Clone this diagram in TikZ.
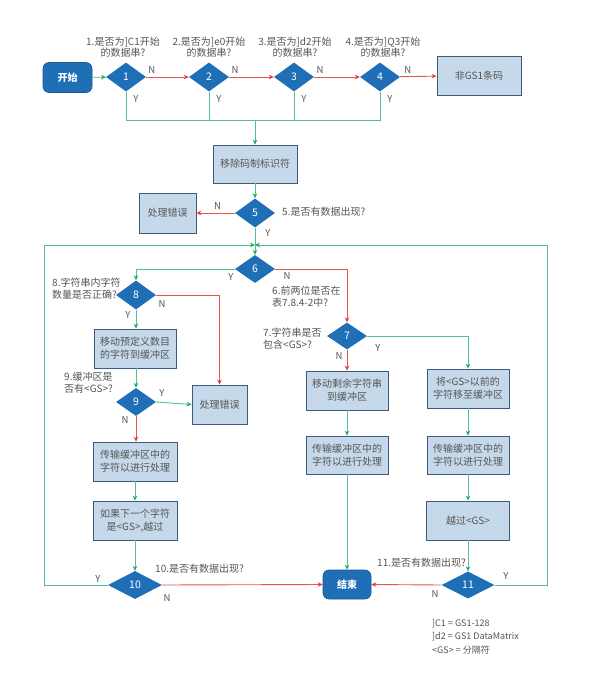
\documentclass[tikz,border=0pt]{standalone}
\usepackage{fontspec}
\setmainfont{Noto Sans CJK SC}
\usetikzlibrary{shapes.geometric,arrows.meta}
\definecolor{dblue}{HTML}{1F6FB6}
\definecolor{lblue}{HTML}{C5D9EB}
\definecolor{bord}{HTML}{3D5A80}
\definecolor{gline}{HTML}{52BF95}
\definecolor{garr}{HTML}{1FAE55}
\definecolor{rline}{HTML}{E8554D}
\definecolor{rarr}{HTML}{E53935}
\definecolor{txt}{HTML}{555555}
\tikzset{
  dia/.style={diamond,fill=dblue,draw=none,inner sep=0pt,minimum width=40pt,minimum height=29pt,text=white,font=\fontsize{10.5}{12}\selectfont},
  wdia/.style={dia,minimum width=54pt,minimum height=28pt},
  box/.style={rectangle,fill=lblue,draw=bord,line width=0.8pt,minimum width=83pt,minimum height=39pt,align=center,text=txt,font=\fontsize{10}{13}\selectfont,inner sep=1pt},
  term/.style={rectangle,rounded corners=6pt,fill=dblue,draw=dblue!80!black,line width=0.6pt,minimum width=49pt,minimum height=30pt,text=white,font=\fontsize{10}{12}\selectfont\bfseries},
  lab/.style={text=txt,font=\fontsize{10}{11.5}\selectfont,inner sep=0pt,align=left},
  yn/.style={text=txt,font=\fontsize{9.5}{11}\selectfont,inner sep=0pt},
  gl/.style={draw=gline,line width=0.9pt},
  ga/.style={gl,-{Stealth[length=5pt,width=4.5pt,color=garr]}},
  rl/.style={draw=rline,line width=0.9pt},
  ra/.style={rl,-{Stealth[length=5pt,width=4.5pt,color=rarr]}},
}
\begin{document}
\begin{tikzpicture}[x=1pt,y=-1pt]
\useasboundingbox[fill=white] (0,0) rectangle (591,690);
% nodes
\node[term] (start) at (67.5,77.5) {开始};
\node[dia] (d1) at (126,77) {1};
\node[dia] (d2) at (209,77) {2};
\node[dia] (d3) at (294,77) {3};
\node[dia] (d4) at (380,77) {4};
\node[box,minimum width=84pt] (ngs) at (479,75.5) {非GS1条码};
\node[lab,align=center] (q1) at (123,47) {1.是否为]C1开始\\的数据串?};
\node[lab,align=center] (q2) at (209,47) {2.是否为]e0开始\\的数据串?};
\node[lab,align=center] (q3) at (295,47) {3.是否为]d2开始\\的数据串?};
\node[lab,align=center] (q4) at (383,47) {4.是否为]Q3开始\\的数据串?};

\node[box,minimum width=84pt,minimum height=38pt] (rm) at (255,164) {移除码制标识符};
\node[dia] (d5) at (255,213) {5};
\node[box,minimum width=57pt,minimum height=40pt] (err1) at (167.5,213) {处理错误};
\node[lab,anchor=west] (q5) at (282,212) {5.是否有数据出现?};
\coordinate (j) at (255,245);

\node[dia,minimum height=28pt] (d6) at (255,269) {6};
\node[lab,anchor=north west] (q6) at (272,286) {6.前两位是否在\\表7.8.4-2中?};
\node[dia] (d8) at (136,295) {8};
\node[lab,anchor=north west] (q8) at (52,278) {8.字符串内字符\\数量是否正确?};
\node[box,minimum width=82pt] (b1) at (135,348.5) {移动预定义数目\\的字符到缓冲区};
\node[dia,minimum height=28pt] (d9) at (136,402) {9};
\node[lab,anchor=north west] (q9) at (64,372) {9.缓冲区是\\否有<GS>?};
\node[box,minimum width=55pt] (err2) at (219.5,404.5) {处理错误};
\node[box,minimum width=84pt] (b2) at (135,461.5) {传输缓冲区中的\\字符以进行处理};
\node[box,minimum width=84pt] (b3) at (135,520.5) {如果下一个字符\\是<GS>,越过};
\node[wdia] (d10) at (135,585) {10};
\node[lab,anchor=west] (q10) at (155,569) {10.是否有数据出现?};
\node[term,minimum width=48pt,minimum height=29pt] (end) at (347,584.5) {结束};

\node[dia,minimum height=27pt] (d7) at (347,336) {7};
\node[lab,anchor=north west] (q7) at (263,328) {7.字符串是否\\包含<GS>?};
\node[box,minimum width=82pt] (b4) at (347,390.5) {移动剩余字符串\\到缓冲区};
\node[box,minimum width=82pt] (b5) at (468,388.5) {将<GS>以前的\\字符移至缓冲区};
\node[box,minimum width=82pt,minimum height=38pt] (b6) at (347,455) {传输缓冲区中的\\字符以进行处理};
\node[box,minimum width=82pt,minimum height=38pt] (b7) at (468,455) {传输缓冲区中的\\字符以进行处理};
\node[box,minimum width=83pt] (b8) at (468,520.5) {越过<GS>};
\node[wdia,minimum width=53pt,minimum height=27pt] (d11) at (468,585) {11};
\node[lab,anchor=west] (q11) at (377,563) {11.是否有数据出现?};

\node[lab,anchor=north west,font=\fontsize{9}{13.5}\selectfont] (legend) at (432,619) {]C1 = GS1-128\\]d2 = GS1 DataMatrix\\<GS> = 分隔符};

% connectors top row
\draw[ga] (start) -- (d1);
\draw[ra] (d1) -- (d2) node[yn,pos=0.13,above=3pt] {N};
\draw[ra] (d2) -- (d3) node[yn,pos=0.13,above=3pt] {N};
\draw[ra] (d3) -- (d4) node[yn,pos=0.13,above=3pt] {N};
\draw[ra] (d4) -- (ngs) node[yn,pos=0.22,above=3pt] {N};
\coordinate (m1) at (126,120);
\coordinate (m4) at (380,120);
\coordinate (mc) at (255,120);
\draw[gl] (d1.south) -- (m1) -- (m4) -- (d4.south);
\draw[gl] (d2.south) -- (d2.south |- m1);
\draw[gl] (d3.south) -- (d3.south |- m1);
\node[yn] at (136,99) {Y};
\node[yn] at (219,99) {Y};
\node[yn] at (304,99) {Y};
\node[yn] at (390,99) {Y};
\draw[ga] (mc) -- (rm);
\draw[ga] (rm) -- (d5);
\draw[ra] (d5) -- (err1) node[yn,pos=0.45,above=3pt] {N};
\draw[gl] (d5.south) -- (j);
\node[yn] at (268,233) {Y};
\draw[ga] (j) -- (d6);

% loops
\coordinate (lb) at (44,585);
\coordinate (lt) at (44,245);
\coordinate (rb) at (547,585);
\coordinate (rt) at (547,245);
\draw[ga] (d10.west) -- (lb) -- (lt) -- (j);
\draw[ga] (d11.east) -- (rb) -- (rt) -- (j);
\node[yn] at (98,579) {Y};
\node[yn] at (506,576) {Y};

% 6
\draw[ga] (d6.west) -| (d8.north);
\node[yn] at (231,277) {Y};
\draw[ra] (d6.east) -| (d7.north);
\node[yn] at (287,276) {N};

% 8 / 9 branch
\draw[ra] (d8.east) -| (err2.north);
\node[yn] at (162,304) {N};
\draw[ga] (d8.south) -- (d8.south |- b1.north);
\node[yn] at (128,315) {Y};
\draw[ga] (b1.south -| d9.north) -- (d9.north);
\draw[ga] (d9.east) -- (err2.west);
\node[yn] at (162,393) {Y};
\draw[ra] (d9.south) -- (d9.south |- b2.north);
\node[yn] at (125,420) {N};
\draw[ga] (b2) -- (b3);
\draw[ga] (b3) -- (d10);
\draw[ra] (d10.east) -- (end.west);
\node[yn] at (167,598) {N};

% 7 branch
\draw[ra] (d7.south) -- (b4.north);
\node[yn] at (339,356) {N};
\draw[ga] (d7.east) -| (b5.north);
\node[yn] at (378,348) {Y};
\draw[ga] (b4) -- (b6);
\draw[ga] (b6) -- (end);
\draw[ga] (b5) -- (b7);
\draw[ga] (b7) -- (b8);
\draw[ga] (b8) -- (d11);
\draw[ra] (d11.west) -- (end.east);
\node[yn] at (435,594) {N};
\end{tikzpicture}
\end{document}
